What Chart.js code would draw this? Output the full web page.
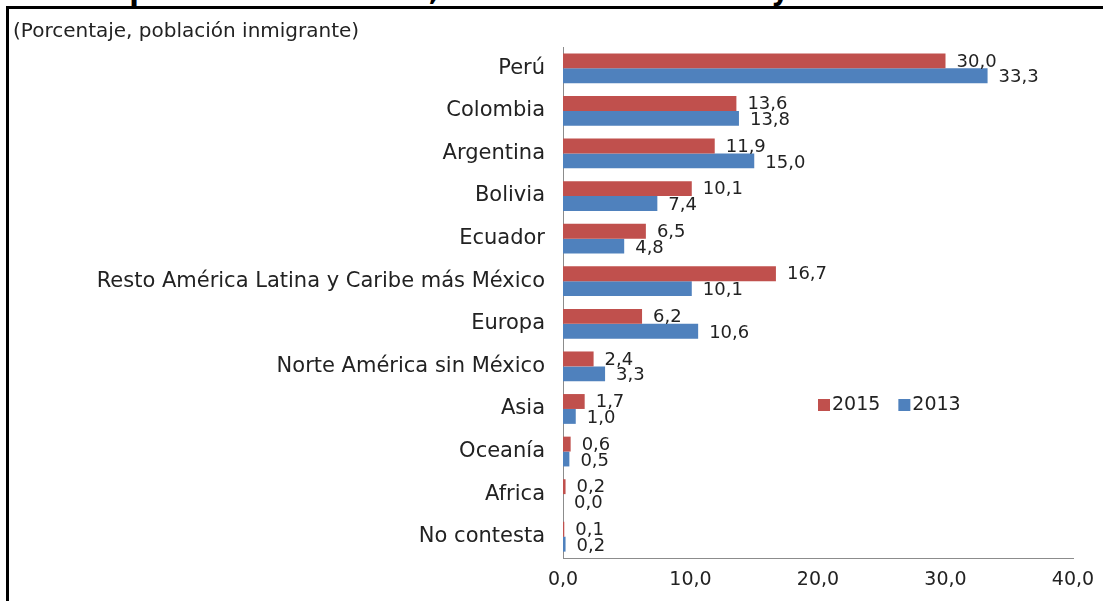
<!DOCTYPE html>
<html>
<head>
<meta charset="utf-8">
<script src="https://cdn.jsdelivr.net/npm/chart.js@4.4.0/dist/chart.umd.min.js"></script>
<style>
  html, body { margin: 0; padding: 0; background: #fff; overflow: hidden; }
  #wrap { position: relative; width: 1103px; height: 601px; }
  #frame {
    position: absolute; left: 6px; top: 6px; right: -10px; bottom: -10px;
    border-left: 3px solid #000; border-top: 3px solid #000;
  }
  #title {
    position: absolute; top: -23px; left: 0; width: 877px; text-align: right;
    font: bold 28px "DejaVu Sans", sans-serif; line-height: 28px; color: #000; white-space: nowrap;
  }
  canvas { position: absolute; left: 0; top: 0; }
</style>
</head>
<body>
<div id="wrap">
  <div id="title">país de nacimiento, entre los años 2013 y 2015</div>
  <div id="frame"></div>
  <canvas id="chart" width="1103" height="601"></canvas>
</div>
<script>
// ---- data ----
const categories = [
  'Perú', 'Colombia', 'Argentina', 'Bolivia', 'Ecuador',
  'Resto América Latina y Caribe más México', 'Europa',
  'Norte América sin México', 'Asia', 'Oceanía', 'Africa', 'No contesta'
];
const values2015 = [30.0, 13.6, 11.9, 10.1, 6.5, 16.7, 6.2, 2.4, 1.7, 0.6, 0.2, 0.1];
const values2013 = [33.3, 13.8, 15.0, 7.4, 4.8, 10.1, 10.6, 3.3, 1.0, 0.5, 0.0, 0.2];
const seriesNames = ['2015', '2013'];
const xTicks = [0, 10, 20, 30, 40];
const subtitle = '(Porcentaje, población inmigrante)';

const RED = '#C0504D';
const BLUE = '#4F81BD';
const FONT = '"DejaVu Sans", Verdana, sans-serif';
const TEXT = '#222';

const fmt = v => Number(v).toFixed(1).replace('.', ',');

// value labels next to each bar end
const valueLabels = {
  id: 'valueLabels',
  afterDatasetsDraw(chart) {
    const { ctx } = chart;
    ctx.save();
    ctx.font = `18px ${FONT}`;
    ctx.fillStyle = TEXT;
    ctx.textAlign = 'left';
    ctx.textBaseline = 'middle';
    chart.data.datasets.forEach((ds, i) => {
      const meta = chart.getDatasetMeta(i);
      meta.data.forEach((bar, j) => {
        const dy = i === 0 ? 1 : 2;
        ctx.fillText(fmt(ds.data[j]), bar.x + 11, bar.y + dy);
      });
    });
    ctx.restore();
  }
};

// subtitle and in-plot legend
const extras = {
  id: 'extras',
  afterDraw(chart) {
    const { ctx } = chart;
    ctx.save();
    ctx.font = `20px ${FONT}`;
    ctx.fillStyle = TEXT;
    ctx.textBaseline = 'middle';
    ctx.textAlign = 'left';
    ctx.fillText(subtitle, 13, 32);

    ctx.font = `19px ${FONT}`;
    let x = 818;
    const y = 405;
    chart.data.datasets.forEach(ds => {
      ctx.fillStyle = ds.backgroundColor;
      ctx.fillRect(x, y - 6, 12, 12);
      ctx.fillStyle = TEXT;
      ctx.fillText(ds.label, x + 14, y);
      x += 14 + ctx.measureText(ds.label).width + 18;
    });
    ctx.restore();
  }
};

new Chart(document.getElementById('chart'), {
  type: 'bar',
  data: {
    labels: categories,
    datasets: [
      { label: seriesNames[0], data: values2015, backgroundColor: RED },
      { label: seriesNames[1], data: values2013, backgroundColor: BLUE },
    ],
  },
  options: {
    indexAxis: 'y',
    responsive: false,
    animation: false,
    categoryPercentage: 0.7,
    barPercentage: 1.0,
    layout: { padding: { top: 47, right: 30, bottom: 0, left: 0 } },
    plugins: { legend: { display: false }, tooltip: { enabled: false } },
    scales: {
      y: {
        grid: { display: false },
        border: { display: true, color: '#8c8c8c', width: 1 },
        ticks: { color: TEXT, font: { family: FONT, size: 21 }, padding: 10 },
        afterFit: s => { s.width = 563; },
      },
      x: {
        min: 0, max: 40,
        grid: { display: false },
        border: { display: true, color: '#8c8c8c', width: 1 },
        afterBuildTicks: s => { s.ticks = xTicks.map(v => ({ value: v })); },
        ticks: { color: TEXT, font: { family: FONT, size: 19 }, padding: 3, callback: v => fmt(v) },
        afterFit: s => { s.height = 43; },
      },
    },
  },
  plugins: [valueLabels, extras],
});
</script>
</body>
</html>
